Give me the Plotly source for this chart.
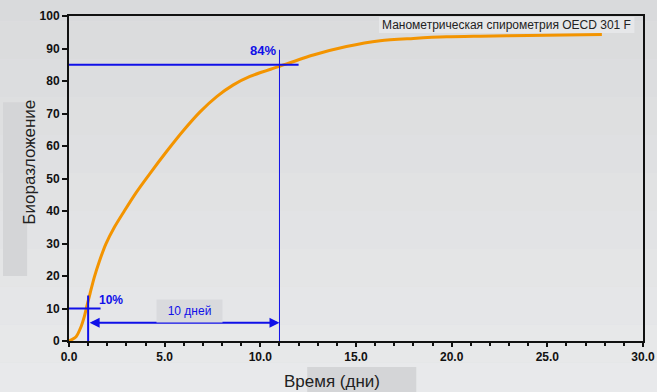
import plotly.graph_objects as go

# Data
days = [0, 0.37, 0.63, 0.8, 0.92, 1.1, 1.32, 1.58, 1.93, 2.37, 2.89, 3.5, 4.2,
        5.1, 5.97, 6.85, 7.72, 8.59, 9.46, 10.94, 12.77, 14.5, 16.26, 18.0,
        19.74, 21.5, 24.0, 27.85]
biodeg = [0, 1.3, 4.4, 7.5, 10.4, 14.6, 19.6, 24.4, 29.9, 35.0, 40.0, 45.6, 51.3,
          58.3, 64.7, 70.5, 75.2, 78.8, 81.4, 84.4, 88, 90.6, 92.4, 93.1,
          93.6, 93.8, 94.0, 94.3]

x_ticks = [0, 5, 10, 15, 20, 25, 30]
x_ticklabels = ["0.0", "5.0", "10.0", "15.0", "20.0", "25.0", "30.0"]
y_ticks = list(range(0, 101, 10))

t_start, level_start = 1.0, 10      # 10% reached
t_end, level_end = 11.0, 85         # plateau (84%) reached
label_start, label_end = "10%", "84%"
window_label = "10 дней"
title_text = "Манометрическая спирометрия OECD 301 F"
x_title = "Время (дни)"
y_title = "Биоразложение"

BLUE = "#1010e8"
BG = "#dfe0e2"
FONT = "Liberation Sans, Arial, sans-serif"

fig = go.Figure()
fig.add_trace(go.Scatter(x=days, y=biodeg, mode="lines",
                         line=dict(color="#f39400", width=3, shape="spline", smoothing=0.8),
                         showlegend=False, hoverinfo="skip"))

shapes = []
# gradient background (lighter to bottom)
n = 12
for i in range(n):
    c0 = (0xd9, 0xda, 0xdc)
    c1 = (0xea, 0xeb, 0xec)
    f = i / (n - 1)
    col = "rgb(%d,%d,%d)" % tuple(round(a + (b - a) * f) for a, b in zip(c0, c1))
    shapes.append(dict(type="rect", xref="paper", yref="paper", layer="below",
                       x0=-0.2, x1=1.1, y0=1.1 - (i + 1) * 1.4 / n, y1=1.1 - i * 1.4 / n,
                       fillcolor=col, line=dict(width=0)))
# title boxes
shapes.append(dict(type="rect", xref="paper", yref="paper", x0=-0.115, x1=-0.073, y0=0.2, y1=0.735,
                   fillcolor="#d4d5d7", line=dict(width=0), layer="below"))
shapes.append(dict(type="rect", xref="paper", yref="paper", x0=0.415, x1=0.605, y0=-0.08, y1=-0.2,
                   fillcolor="#d4d5d7", line=dict(width=0), layer="below"))
shapes.append(dict(type="rect", xref="paper", yref="paper", x0=0.54, x1=0.985, y0=0.948, y1=0.997,
                   fillcolor="#e6e7e9", line=dict(width=0), layer="below"))
# 84% lines
shapes.append(dict(type="line", xref="x", yref="y", x0=0, x1=t_end + 1.0, y0=level_end, y1=level_end,
                   line=dict(color=BLUE, width=2)))
shapes.append(dict(type="line", xref="x", yref="y", x0=t_end, x1=t_end, y0=0, y1=level_end + 4.6,
                   line=dict(color=BLUE, width=1)))
# 10% lines
shapes.append(dict(type="line", xref="x", yref="y", x0=0, x1=t_start + 0.65, y0=level_start, y1=level_start,
                   line=dict(color=BLUE, width=2)))
shapes.append(dict(type="line", xref="x", yref="y", x0=t_start, x1=t_start, y0=0, y1=level_start + 4,
                   line=dict(color=BLUE, width=2)))

annotations = [
    dict(x=t_end - 0.85, y=level_end + 4.4, xref="x", yref="y", text="<b>" + label_end + "</b>",
         showarrow=False, font=dict(color=BLUE, size=13, family=FONT)),
    dict(x=t_start + 1.17, y=level_start + 2.6, xref="x", yref="y", text="<b>" + label_start + "</b>",
         showarrow=False, font=dict(color=BLUE, size=12, family=FONT)),
    dict(x=t_end, y=5.6, ax=t_start, ay=5.6, xref="x", yref="y", axref="x", ayref="y",
         text="", showarrow=True, arrowhead=2, arrowside="end+start", arrowsize=1,
         arrowwidth=2, arrowcolor=BLUE, startarrowhead=2, startarrowsize=1),
    dict(x=6.3, y=9.3, xref="x", yref="y", text=window_label,
         showarrow=False, font=dict(color=BLUE, size=12, family=FONT),
         bgcolor="#d9dadd", borderpad=4, width=57),
    dict(x=0.983, y=0.973, xref="paper", yref="paper", xanchor="right", yanchor="middle",
         text=title_text, showarrow=False, font=dict(color="#222", size=12, family=FONT)),
    dict(x=-0.089, y=0.55, xref="paper", yref="paper", text=y_title, textangle=-90,
         showarrow=False, font=dict(color="#222", size=17, family=FONT)),
    dict(x=0.459, y=-0.126, xref="paper", yref="paper", text=x_title, yanchor="middle",
         showarrow=False, font=dict(color="#222", size=17, family=FONT)),
]

fig.update_layout(
    width=657, height=392,
    margin=dict(l=69, r=14, t=16, b=51, autoexpand=False),
    paper_bgcolor=BG, plot_bgcolor="rgba(0,0,0,0)",
    font=dict(family=FONT, color="#111"),
    shapes=shapes, annotations=annotations,
    xaxis=dict(range=[0, 30], tickvals=x_ticks, ticktext=x_ticklabels,
               ticks="outside", ticklen=4, tickwidth=2, tickcolor="#111",
               minor=dict(dtick=1, ticks="outside", ticklen=3, tickwidth=2, tickcolor="#111"),
               showline=True, linecolor="#111", linewidth=2, mirror=True,
               showgrid=False, zeroline=False,
               tickfont=dict(size=12, family=FONT, weight="bold", color="#111")),
    yaxis=dict(range=[0, 100], tickvals=y_ticks,
               ticks="outside", ticklen=5, tickwidth=2, tickcolor="#111",
               showline=True, linecolor="#111", linewidth=2, mirror=True,
               showgrid=False, zeroline=False,
               tickfont=dict(size=12, family=FONT, weight="bold", color="#111")),
)

fig.write_html("out.html", config={"displayModeBar": False},
               post_script="document.body.style.margin='0';document.body.style.background='%s';" % BG)
